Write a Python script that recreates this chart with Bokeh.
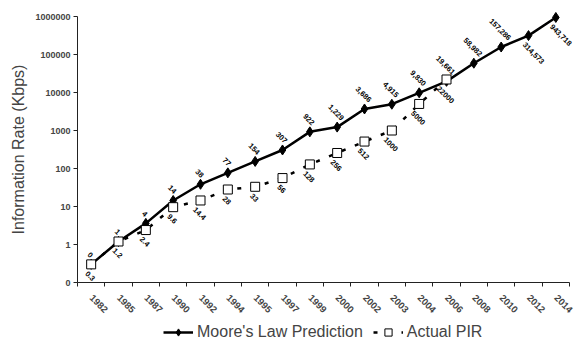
import math
from bokeh.plotting import figure
from bokeh.layouts import column
from bokeh.models import FixedTicker, Legend, LegendItem, ColumnDataSource
from bokeh.embed import file_html
from bokeh.resources import INLINE
from bokeh.core.properties import value

# ---- data ----
years = ["1982", "1985", "1987", "1990", "1992", "1994", "1995", "1997", "1999",
         "2000", "2002", "2003", "2004", "2006", "2008", "2010", "2012", "2014"]
moore = [0.3, 1.2, 3.6, 14.4, 38.4, 76.8, 153.6, 307.2, 921.6, 1228.8, 3686.4,
         4915.2, 9830.4, 19660.8, 58982.4, 157286.4, 314572.8, 943718.4]
pir = [0.3, 1.2, 2.4, 9.6, 14.4, 28, 33, 56, 128, 256, 512, 1000, 5000, 22000]
pir_labels = ["0.3", "1.2", "2.4", "9.6", "14.4", "28", "33", "56", "128",
              "256", "512", "1000", "5000", "22000"]
moore_label_pos = ["above"] * 16 + ["below", "below"]
y_ticks = [0.1, 1, 10, 100, 1000, 10000, 100000, 1000000]
y_tick_labels = ["0", "1", "10", "100", "1000", "10000", "100000", "1000000"]
series_names = ["Moore's Law Prediction", "Actual PIR"]

FONT = "Liberation Sans"
LBL_FS = 7.5


def text_w(s, fs):
    w = 0.0
    for ch in s:
        w += 0.278 if ch in ",." else 0.556
    return w * fs


def offset(s, fs, gap=6.0):
    return gap + (text_w(s, fs) + fs * 0.75) * 0.3536


xm = [i + 0.5 for i in range(len(moore))]
xp = [i + 0.5 for i in range(len(pir))]
moore_labels = ["{:,.0f}".format(v) for v in moore]

m_yoff = []
m_xoff = []
for s, pos in zip(moore_labels, moore_label_pos):
    d = offset(s, LBL_FS)
    if pos == "above":
        m_yoff.append(-d)
        m_xoff.append(-1)
    else:
        m_yoff.append(d)
        m_xoff.append(5)
p_yoff = [offset(s, LBL_FS) for s in pir_labels]
p_xoff = [-1 for s in pir_labels]

msrc = ColumnDataSource(dict(x=xm, y=moore, label=moore_labels, xo=m_xoff, yo=m_yoff))
psrc = ColumnDataSource(dict(x=xp, y=pir, label=pir_labels, xo=p_xoff, yo=p_yoff))

p = figure(width=576, height=322, y_axis_type="log", x_range=(0, len(years)),
           y_range=(0.1, 1000000), output_backend="svg", toolbar_location=None,
           background_fill_color="white", border_fill_color="white")
p.min_border_left = 77
p.min_border_right = 7
p.min_border_top = 16
p.min_border_bottom = 40
p.outline_line_color = None
p.xgrid.visible = False
p.ygrid.visible = False

# x axis (category style: ticks at boundaries, labels at centers)
xa = p.xaxis[0]
xa.ticker = FixedTicker(ticks=xm, minor_ticks=list(range(len(years) + 1)))
xa.major_label_overrides = {x: y for x, y in zip(xm, years)}
xa.major_tick_line_color = None
xa.major_tick_out = 4
xa.major_tick_in = 0
xa.minor_tick_line_color = "#222222"
xa.minor_tick_out = 4
xa.minor_tick_in = 0
xa.axis_line_color = "#222222"
xa.major_label_orientation = -math.pi / 4
xa.major_label_text_font = FONT
xa.major_label_text_font_style = "bold"
xa.major_label_text_font_size = "9.5px"
xa.major_label_standoff = 10

ya = p.yaxis[0]
ya.ticker = FixedTicker(ticks=y_ticks, minor_ticks=[])
ya.major_label_overrides = {t: l for t, l in zip(y_ticks, y_tick_labels)}
ya.major_tick_line_color = "#222222"
ya.major_tick_out = 4
ya.major_tick_in = 0
ya.minor_tick_line_color = None
ya.axis_line_color = "#222222"
ya.major_label_text_font = FONT
ya.major_label_text_font_style = "bold"
ya.major_label_text_font_size = "9px"
ya.major_label_standoff = 3
ya.axis_label = "Information Rate (Kbps)"
ya.axis_label_text_font = FONT
ya.axis_label_text_font_style = "normal"
ya.axis_label_text_font_size = "16px"
ya.axis_label_standoff = 5

# series
MOORE_LINE = dict(line_color="black", line_width=2.5)
PIR_LINE = dict(line_color="black", line_width=2.5, line_dash="4 10")
MOORE_MARK = dict(marker="diamond", size=10, fill_color="black", line_color="black")
PIR_MARK = dict(marker="square", size=9, fill_color="white", line_color="black", line_width=1)

p.line("x", "y", source=msrc, **MOORE_LINE)
p.line("x", "y", source=psrc, **PIR_LINE)
p.scatter("x", "y", source=msrc, level="overlay", **MOORE_MARK)
p.scatter("x", "y", source=psrc, level="overlay", **PIR_MARK)

TEXT_STYLE = dict(angle=-math.pi / 4, x_offset="xo", y_offset="yo",
                  text_align="center", text_baseline="middle", text_font=value(FONT),
                  text_font_style="bold", text_font_size=f"{LBL_FS}px", text_color="black",
                  level="overlay")
p.text("x", "y", text="label", source=msrc, **TEXT_STYLE)
p.text("x", "y", text="label", source=psrc, **TEXT_STYLE)

# legend strip below the chart (its renderers sit outside the visible range)
lg = figure(width=576, height=20, x_range=(0, 1), y_range=(0, 1), output_backend="svg",
            toolbar_location=None, background_fill_color="white", border_fill_color="white")
lg.min_border = 0
lg.axis.visible = False
lg.grid.visible = False
lg.outline_line_color = None
hidden = dict(x=[-5, -4], y=[-5, -4])
e1 = lg.line(**hidden, **MOORE_LINE)
e2 = lg.scatter(**hidden, **MOORE_MARK)
e3 = lg.line(**hidden, **PIR_LINE)
e4 = lg.scatter(**hidden, **PIR_MARK)
legend = Legend(items=[LegendItem(label=series_names[0], renderers=[e1, e2]),
                       LegendItem(label=series_names[1], renderers=[e3, e4])],
                orientation="horizontal", location=(86, 1), padding=0, margin=0,
                spacing=10, glyph_width=30, glyph_height=18, label_height=18,
                label_standoff=4,
                label_text_font=FONT, label_text_font_size="16px",
                border_line_color=None, background_fill_alpha=0)
lg.add_layout(legend)

layout = column(p, lg, spacing=0)
open("out.html", "w").write(file_html(layout, INLINE))
